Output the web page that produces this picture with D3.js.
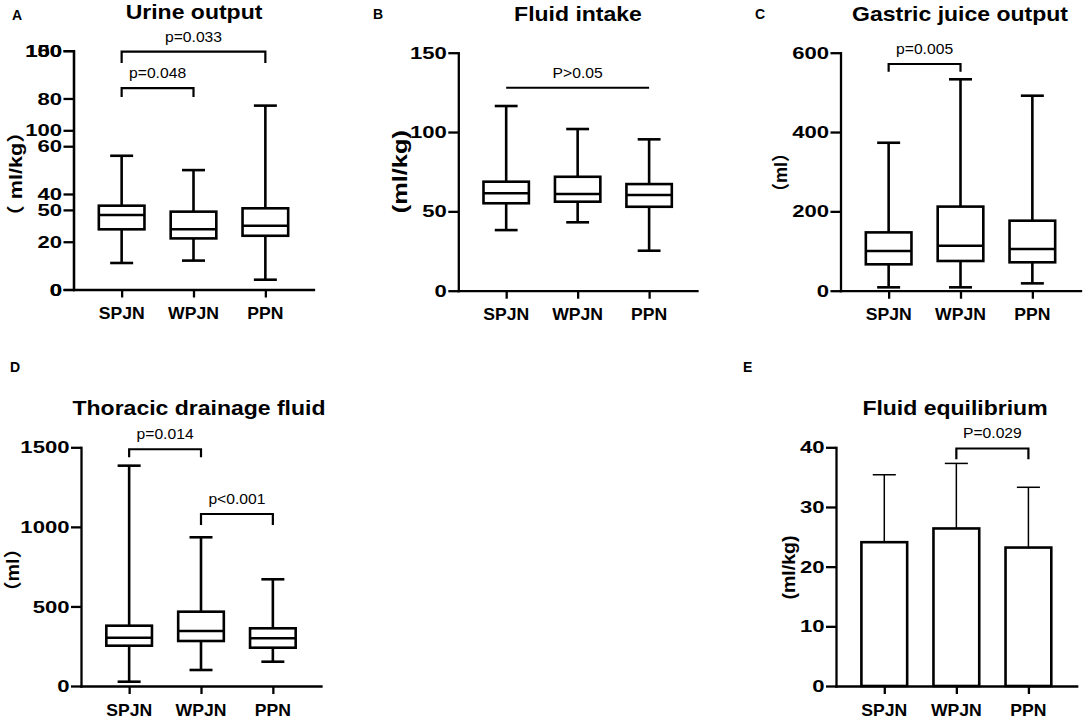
<!DOCTYPE html>
<html><head><meta charset="utf-8">
<script src="https://cdn.jsdelivr.net/npm/d3@7"></script>
<style>
body{margin:0;background:#fff;}
svg{display:block;font-family:"Liberation Sans",Arial,"Noto Sans CJK SC",sans-serif;}
</style></head><body>
<svg id="chart" width="1084" height="718"></svg>
<script>
// ---------------- DATA ----------------
const categories = ["SPJN", "WPJN", "PPN"];

// A. Urine output (ml/kg) - box & whiskers (min, Q1, median, Q3, max)
const urineMin    = [11.1, 12.1, 4.1];
const urineQ1     = [25.2, 21.4, 22.5];
const urineMedian = [31.2, 25.2, 26.7];
const urineQ3     = [35.1, 32.6, 34.0];
const urineMax    = [56.0, 50.0, 77.0];
const urineTicks      = [0, 20, 40, 60, 80, 100];
const urineTicksExtra = [0, 50, 100, 150];   // second (overlapping) tick set on the same axis

// B. Fluid intake (ml/kg)
const intakeMin    = [38.2, 43.1, 25.2];
const intakeQ1     = [55.1, 56.1, 52.9];
const intakeMedian = [61.4, 60.9, 60.3];
const intakeQ3     = [68.7, 71.8, 67.2];
const intakeMax    = [116.4, 101.9, 95.4];
const intakeTicks  = [0, 50, 100, 150];

// C. Gastric juice output (ml)
const gastricMin    = [8.5, 8.5, 18.5];
const gastricQ1     = [66.5, 74.9, 71.6];
const gastricMedian = [100, 113.4, 105];
const gastricQ3     = [147, 212, 176.5];
const gastricMax    = [373, 533, 491.6];
const gastricTicks  = [0, 200, 400, 600];

// D. Thoracic drainage fluid (ml)
const thoracicMin    = [27, 100.6, 152.7];
const thoracicQ1     = [253.3, 282.8, 240.7];
const thoracicMedian = [303.6, 345.7, 299.6];
const thoracicQ3     = [379, 467, 362.6];
const thoracicMax    = [1384.6, 934.6, 670.6];
const thoracicTicks  = [0, 500, 1000, 1500];

// E. Fluid equilibrium (ml/kg) - mean + SD
const equilibriumMean = [24.1, 26.4, 23.2];
const equilibriumSD   = [11.3, 10.9, 10.1];
const equilibriumTicks = [0, 10, 20, 30, 40];

// Significance annotations (values in data units)
const bracketsA = [
  {from: "SPJN", to: "PPN",  top: 99.6,   leg: 94.9,   label: "p=0.033"},
  {from: "SPJN", to: "WPJN", top: 84.3,   leg: 80.6,   label: "p=0.048"}
];
const bracketsB = [{from: "SPJN", to: "PPN",  top: 127.9, leg: 127.9, label: "P>0.05"}];
const bracketsC = [{from: "SPJN", to: "WPJN", top: 571.5, leg: 552,   label: "p=0.005"}];
const bracketsD = [
  {from: "SPJN", to: "WPJN", top: 1487.8, leg: 1437.5, label: "p=0.014"},
  {from: "WPJN", to: "PPN",  top: 1081,   leg: 1012,   label: "p<0.001"}
];
const bracketsE = [{from: "WPJN", to: "PPN", top: 39.8, leg: 38.0, label: "P=0.029"}];

const titles  = ["Urine output", "Fluid intake", "Gastric juice output", "Thoracic drainage fluid", "Fluid equilibrium"];
const letters = ["A", "B", "C", "D", "E"];
const yLabels = ["\uFF08 ml/kg\uFF09", "(ml/kg)", "\uFF08ml\uFF09", "\uFF08ml\uFF09", "(ml/kg)"];

// ---------------- LAYOUT / STYLE ----------------
const layout = [
  {x0: 73.5, x1: 313.5, y0: 289.5, yTop: 50.7,  title: [194, 19.3], letter: [12, 19.5],  ylab: [17, 174, 18, 1.2]},
  {x0: 458.3, x1: 697,  y0: 290.7, yTop: 52.7,  title: [578, 20.7], letter: [373, 18.5], ylab: [400.7, 171.7, 20, 1.27]},
  {x0: 840.5, x1: 1080.5, y0: 290.7, yTop: 52.7, title: [960, 20.7], letter: [755, 18.5], ylab: [781.7, 172.5, 18, 1.0]},
  {x0: 81, x1: 321,     y0: 686, yTop: 447.3,   title: [199, 415],  letter: [10, 372],   ylab: [13.3, 570, 18, 1.1]},
  {x0: 836, x1: 1076.7, y0: 686, yTop: 447.3,   title: [955, 415],  letter: [743, 372],  ylab: [789, 567.5, 19, 1.03]}
];

const svg = d3.select("#chart");

function label(g, str, x, y, o) {
  const t = g.append("text")
    .attr("transform", `translate(${x},${y})` + (o.rotate ? ` rotate(${o.rotate})` : "") + ` scale(${o.sx || 1},1)`)
    .attr("text-anchor", o.anchor || "middle")
    .attr("font-size", o.size)
    .attr("font-weight", o.weight || "normal")
    .attr("fill", "#000")
    .text(str);
  if (o.dy) t.attr("dy", o.dy);
  return t;
}

function makeScales(L, ymax) {
  const x = d3.scalePoint().domain(categories).range([L.x0, L.x1]).padding(0.67);
  const y = d3.scaleLinear().domain([0, ymax]).range([L.y0, L.yTop]);
  return {x, y};
}

function drawFrame(i, x, y, tickSets) {
  const L = layout[i];
  const g = svg.append("g");
  // x axis
  const xa = g.append("g").attr("transform", `translate(0,${L.y0})`)
    .call(d3.axisBottom(x).tickSize(8).tickSizeOuter(0).tickFormat(""));
  // y axis(es)
  tickSets.forEach(ts => {
    const ya = g.append("g").attr("transform", `translate(${L.x0},0)`)
      .call(d3.axisLeft(ts.scale).tickValues(ts.ticks).tickSize(10).tickSizeOuter(0).tickFormat(""));
    ts.ticks.forEach(v => label(g, String(v), L.x0 - 11.5, ts.scale(v), {size: 17, weight: "bold", sx: 1.3, anchor: "end", dy: "0.36em"}));
  });
  g.selectAll(".domain").attr("stroke", "#000").attr("stroke-width", 2.3).attr("stroke-linecap", "square");
  g.selectAll(".tick line").attr("stroke", "#000").attr("stroke-width", 2.3);
  // category labels
  categories.forEach(c => label(g, c, x(c), L.y0 + 29.5, {size: 16, weight: "bold", sx: 1.1}));
  // title, letter, y label
  label(g, titles[i], L.title[0], L.title[1], {size: 20, weight: "bold", sx: 1.15});
  label(g, letters[i], L.letter[0], L.letter[1], {size: 14, weight: "bold", anchor: "start"});
  label(g, yLabels[i], L.ylab[0], L.ylab[1], {size: L.ylab[2], weight: "bold", sx: L.ylab[3], rotate: -90, dy: "0.3em"});
  return g;
}

function drawBoxes(g, x, y, mins, q1s, meds, q3s, maxs) {
  const bw = x.step() * 0.635, cw = x.step() * 0.32;
  const rows = categories.map((c, i) => ({c, min: mins[i], q1: q1s[i], med: meds[i], q3: q3s[i], max: maxs[i]}));
  const bg = g.selectAll("g.box").data(rows).join("g").attr("class", "box")
    .attr("stroke", "#000").attr("stroke-width", 2.6).attr("fill", "none");
  bg.append("line").attr("x1", d => x(d.c)).attr("x2", d => x(d.c)).attr("y1", d => y(d.max)).attr("y2", d => y(d.q3));
  bg.append("line").attr("x1", d => x(d.c)).attr("x2", d => x(d.c)).attr("y1", d => y(d.q1)).attr("y2", d => y(d.min));
  bg.append("line").attr("x1", d => x(d.c) - cw / 2).attr("x2", d => x(d.c) + cw / 2).attr("y1", d => y(d.max)).attr("y2", d => y(d.max));
  bg.append("line").attr("x1", d => x(d.c) - cw / 2).attr("x2", d => x(d.c) + cw / 2).attr("y1", d => y(d.min)).attr("y2", d => y(d.min));
  bg.append("rect").attr("x", d => x(d.c) - bw / 2).attr("width", bw)
    .attr("y", d => y(d.q3)).attr("height", d => y(d.q1) - y(d.q3)).attr("fill", "#fff");
  bg.append("line").attr("x1", d => x(d.c) - bw / 2).attr("x2", d => x(d.c) + bw / 2).attr("y1", d => y(d.med)).attr("y2", d => y(d.med));
}

function drawBrackets(g, x, y, list) {
  list.forEach(b => {
    const xa = x(b.from), xb = x(b.to);
    g.append("path")
      .attr("d", `M${xa},${y(b.leg)}V${y(b.top)}H${xb}V${y(b.leg)}`)
      .attr("fill", "none").attr("stroke", "#000").attr("stroke-width", 2.2);
    label(g, b.label, (xa + xb) / 2, y(b.top) - 10, {size: 14, sx: 1.12});
  });
}

// ---------- Panel A ----------
{
  const {x, y} = makeScales(layout[0], 100);
  const y2 = d3.scaleLinear().domain([0, 150]).range([layout[0].y0, layout[0].yTop]);
  const g = drawFrame(0, x, y, [{scale: y, ticks: urineTicks}, {scale: y2, ticks: urineTicksExtra}]);
  drawBoxes(g, x, y, urineMin, urineQ1, urineMedian, urineQ3, urineMax);
  drawBrackets(g, x, y, bracketsA);
}
// ---------- Panel B ----------
{
  const {x, y} = makeScales(layout[1], 150);
  const g = drawFrame(1, x, y, [{scale: y, ticks: intakeTicks}]);
  drawBoxes(g, x, y, intakeMin, intakeQ1, intakeMedian, intakeQ3, intakeMax);
  drawBrackets(g, x, y, bracketsB);
}
// ---------- Panel C ----------
{
  const {x, y} = makeScales(layout[2], 600);
  const g = drawFrame(2, x, y, [{scale: y, ticks: gastricTicks}]);
  drawBoxes(g, x, y, gastricMin, gastricQ1, gastricMedian, gastricQ3, gastricMax);
  drawBrackets(g, x, y, bracketsC);
}
// ---------- Panel D ----------
{
  const {x, y} = makeScales(layout[3], 1500);
  const g = drawFrame(3, x, y, [{scale: y, ticks: thoracicTicks}]);
  drawBoxes(g, x, y, thoracicMin, thoracicQ1, thoracicMedian, thoracicQ3, thoracicMax);
  drawBrackets(g, x, y, bracketsD);
}
// ---------- Panel E ----------
{
  const L = layout[4];
  const {x, y} = makeScales(L, 40);
  const g = drawFrame(4, x, y, [{scale: y, ticks: equilibriumTicks}]);
  const bw = x.step() * 0.635, cw = x.step() * 0.32;
  const rows = categories.map((c, i) => ({c, m: equilibriumMean[i], sd: equilibriumSD[i]}));
  const eg = g.selectAll("g.bar").data(rows).join("g").attr("class", "bar");
  eg.append("line").attr("x1", d => x(d.c)).attr("x2", d => x(d.c))
    .attr("y1", d => y(d.m)).attr("y2", d => y(d.m + d.sd)).attr("stroke", "#000").attr("stroke-width", 1.5);
  eg.append("line").attr("x1", d => x(d.c) - cw / 2).attr("x2", d => x(d.c) + cw / 2)
    .attr("y1", d => y(d.m + d.sd)).attr("y2", d => y(d.m + d.sd)).attr("stroke", "#000").attr("stroke-width", 1.5);
  eg.append("rect").attr("x", d => x(d.c) - bw / 2).attr("width", bw)
    .attr("y", d => y(d.m)).attr("height", d => y(0) - y(d.m))
    .attr("fill", "#fff").attr("stroke", "#000").attr("stroke-width", 2.6);
  drawBrackets(g, x, y, bracketsE);
}
</script>
</body></html>
